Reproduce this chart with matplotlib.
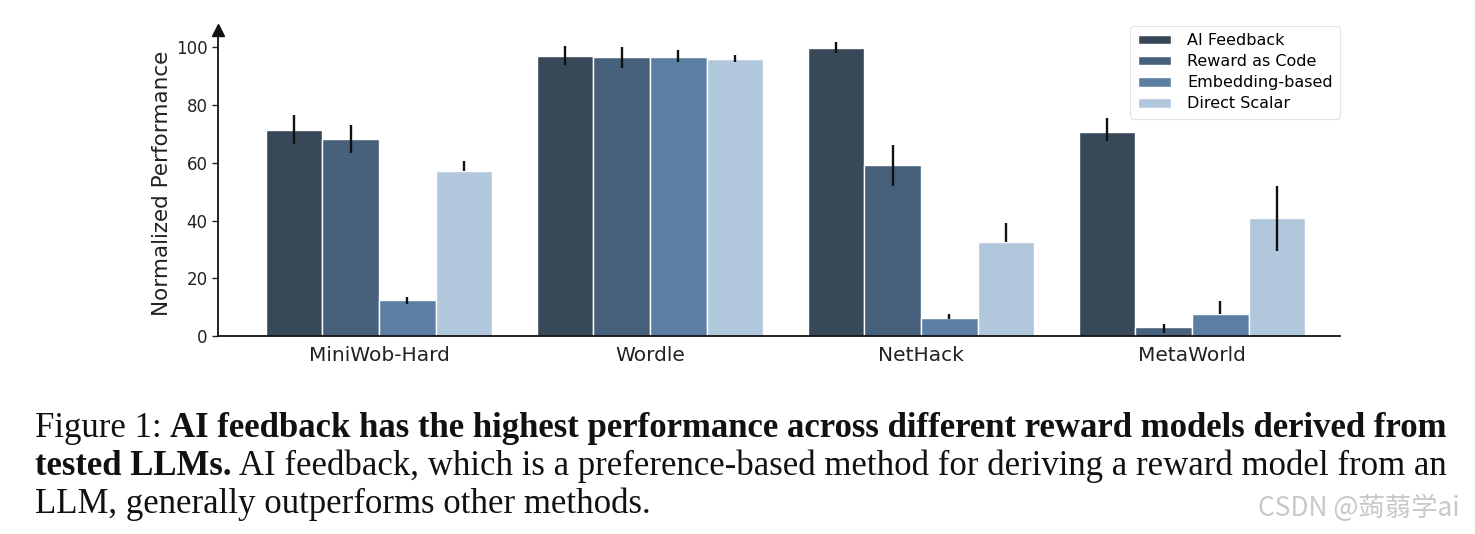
import matplotlib
matplotlib.use("Agg")
import matplotlib.pyplot as plt
import numpy as np

categories = ["MiniWob-Hard", "Wordle", "NetHack", "MetaWorld"]
methods = ["AI Feedback", "Reward as Code", "Embedding-based", "Direct Scalar"]
colors = ["#374959", "#47607c", "#5b7fa3", "#b0c7dc"]

ai_feedback = [71.5, 97.0, 99.8, 70.8]
reward_code = [68.3, 96.5, 59.4, 3.0]
embedding = [12.5, 96.8, 6.3, 7.5]
direct_scalar = [57.0, 96.0, 32.6, 41.0]

ai_lo = [66.5, 94.0, 98.0, 67.5]
ai_hi = [76.5, 100.5, 102.0, 75.5]
rc_lo = [63.5, 93.0, 52.0, 1.0]
rc_hi = [73.0, 100.0, 66.0, 4.2]
emb_lo = [11.0, 95.0, 6.0, 7.5]
emb_hi = [13.5, 99.0, 7.5, 12.0]
ds_lo = [57.0, 95.0, 32.6, 29.5]
ds_hi = [60.5, 97.5, 39.0, 52.0]

values = [ai_feedback, reward_code, embedding, direct_scalar]
lows = [ai_lo, rc_lo, emb_lo, ds_lo]
highs = [ai_hi, rc_hi, emb_hi, ds_hi]

W, H = 1475, 534
fig = plt.figure(figsize=(W / 100, H / 100), dpi=100)
ax = fig.add_axes([218 / W, 1 - 336 / H, (1340 - 218) / W, (336 - 30) / H])

x = np.arange(len(categories))
group_w = 0.835
bw = group_w / 4
for i, (m, c) in enumerate(zip(methods, colors)):
    pos = x - group_w / 2 + bw * (i + 0.5)
    v = np.array(values[i])
    ax.bar(pos, v, width=bw, color=c, edgecolor="white", linewidth=1.0, label=m, zorder=2)
    lo = v - np.array(lows[i])
    hi = np.array(highs[i]) - v
    ax.errorbar(pos, v, yerr=[lo, hi], fmt="none", ecolor="#111111", elinewidth=1.7, capsize=0, zorder=3)

ax.set_xlim(-0.594, 3.546)
ax.set_ylim(0, 106)
ax.set_xticks(x)
ax.set_xticklabels(categories, fontsize=14.5, color="#222222")
ax.tick_params(axis="x", length=0, pad=7)
ax.set_yticks([0, 20, 40, 60, 80, 100])
ax.tick_params(axis="y", labelsize=12, length=4, width=1, colors="#222222")
ax.set_ylabel("Normalized Performance", fontsize=15.5, color="#222222", labelpad=3)
for s in ["top", "right"]:
    ax.spines[s].set_visible(False)
for s in ["left", "bottom"]:
    ax.spines[s].set_linewidth(1.3)
    ax.spines[s].set_color("#111111")
ax.plot([0], [1], marker="^", color="#111111", markersize=9, transform=ax.transAxes, clip_on=False, zorder=5)

leg = ax.legend(loc="upper right", bbox_to_anchor=(1.0, 1.013), borderaxespad=0, fontsize=11.5, frameon=True,
                handlelength=2.1, handleheight=0.55, labelspacing=0.38, borderpad=0.45, handletextpad=1.0)
leg.get_frame().set_edgecolor("#dddddd")
leg.get_frame().set_linewidth(0.8)

# caption
serif = "Liberation Serif"
fs = 25
fig.canvas.draw()
renderer = fig.canvas.get_renderer()

def run(parts, x0, y0):
    xx = x0
    for txt, bold in parts:
        t = fig.text(xx / W, 1 - y0 / H, txt, fontsize=fs, family=serif,
                     fontweight="bold" if bold else "normal", va="baseline", ha="left", color="#111111")
        bb = t.get_window_extent(renderer=renderer)
        xx += bb.width

run([("Figure 1: ", False), ("AI feedback has the highest performance across different reward models derived from", True)], 35, 437)
run([("tested LLMs.", True), (" AI feedback, which is a preference-based method for deriving a reward model from an", False)], 35, 475)
run([("LLM, generally outperforms other methods.", False)], 35, 513)

fig.text(1258 / W, 1 - 508 / H, "CSDN @蒟蒻学ai", fontsize=19, family=["Noto Sans CJK SC", "DejaVu Sans"],
         color="#c8c8c8", va="center", ha="left")

fig.savefig("out.png", dpi=100)
